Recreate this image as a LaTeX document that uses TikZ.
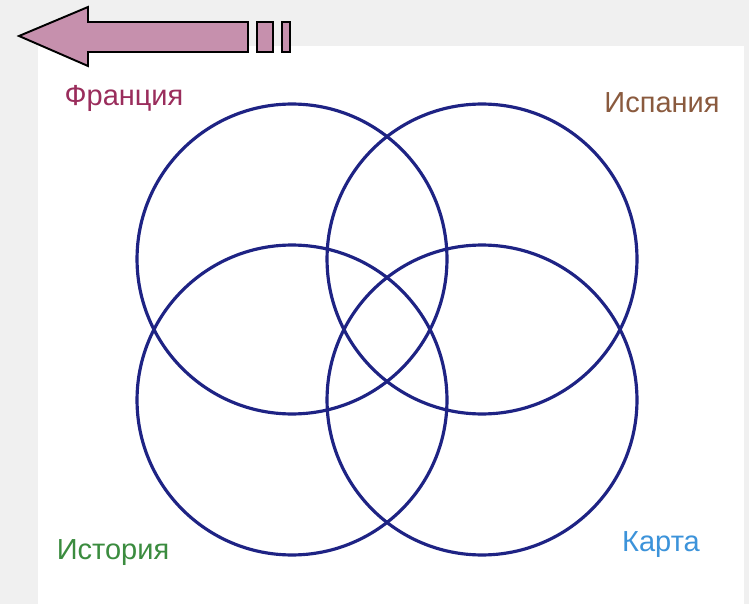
\documentclass[tikz,border=0pt]{standalone}
\usepackage{fontspec}
\setmainfont{Liberation Sans}
\usetikzlibrary{positioning,calc}
\usepackage{xcolor}
\definecolor{ringblue}{HTML}{1E2384}
\definecolor{arrowpink}{HTML}{C690AD}
\definecolor{pagegray}{HTML}{F0F0F0}
\definecolor{frcol}{HTML}{9A2D5C}
\definecolor{escol}{HTML}{8A5A3E}
\definecolor{hicol}{HTML}{3B8C3F}
\definecolor{macol}{HTML}{3C93DA}

\begin{document}
\begin{tikzpicture}[x=0.02cm, y=-0.02cm,
    ring/.style={circle, draw=ringblue, line width=1.8pt, minimum size=6.2cm, inner sep=0pt},
    word/.style={font=\fontsize{16.5}{19}\selectfont}]
            % Page
            \useasboundingbox (0,0) rectangle (749,604);
            \fill[pagegray] (0,0) rectangle (749,604);
            \fill[white] (38,46) rectangle (744,604);

            % Back arrow
            \draw[fill=arrowpink, line width=1.1pt] (19,36) -- (88,7) -- (88,22) -- (248,22)
                -- (248,52) -- (88,52) -- (88,66) -- cycle;
            \draw[fill=arrowpink, line width=1.1pt] (257,22) rectangle (273,52);
            \draw[fill=arrowpink, line width=1.1pt] (282,22) rectangle (290,52);

            % Circles
            \node[ring] (france) at (292,259) {};
            \node[ring] (spain) at (482,259) {};
            \node[ring] (history) at (292,400) {};
            \node[ring] (map) at (482,400) {};

            % Labels
            \node[word, text=frcol] (frlabel) at (124,98) {Франция};
            \node[word, text=escol] (eslabel) at (662,103) {Испания};
            \node[word, text=hicol] (hilabel) at (113,553) {История};
            \node[word, text=macol] (malabel) at (661,545) {Карта};
        \end{tikzpicture}
\end{document}
